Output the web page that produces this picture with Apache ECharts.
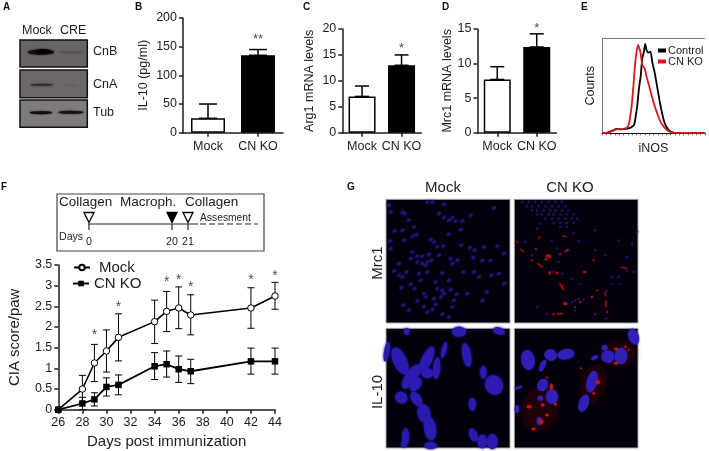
<!DOCTYPE html>
<html><head><meta charset="utf-8">
<style>html,body{margin:0;padding:0;background:#fff}#c{width:709px;height:451px}</style>
<script src="https://cdn.jsdelivr.net/npm/echarts@6/dist/echarts.min.js"></script>
</head><body><div id="c"></div>
<script>
// ---- bar panels ----
const barCats = ['Mock','CN KO'];
const il10 = [25,135];   const il10Top = [50,145];
const arg1 = [7,13];     const arg1Top = [9,15];
const mrc1 = [7.7,12.4]; const mrc1Top = [9.55,14.3];
// ---- flow histogram (channel, counts) ----
const flowControl = [[18,1],[35,2],[50,8],[62,13],[75,12],[90,13],[105,17],[115,25],[120,50],[125,85],[130,135],[135,170],[140,225],[145,245],[149,268],[153,250],[158,242],[165,245],[170,215],[178,180],[185,140],[192,100],[200,60],[208,30],[216,15],[225,6],[240,1],[330,1]];
const flowKO = [[18,1],[35,2],[50,7],[62,12],[75,12],[85,14],[95,18],[100,30],[103,48],[107,75],[110,105],[113,140],[116,180],[119,215],[123,245],[127,265],[131,255],[135,240],[140,205],[147,195],[153,170],[160,145],[168,115],[175,90],[185,60],[195,35],[205,20],[215,10],[225,4],[240,1],[330,1]];
// ---- CIA score ----
const days = [26,28,29,30,31,34,35,36,37,42,44];
const ciaMock = [0,.5,1.13,1.42,1.75,2.13,2.38,2.46,2.29,2.46,2.75];
const ciaMockHi = [0,.83,1.58,1.93,2.32,2.65,2.86,2.97,2.78,2.95,3.08];
const ciaMockLo = [0,.17,.68,.91,1.18,1.6,1.89,1.96,1.81,1.97,2.43];
const ciaKO = [0,.15,.25,.55,.6,1.05,1.1,.98,.93,1.17,1.17];
const ciaKOHi = [0,.3,.41,.77,.84,1.38,1.42,1.3,1.22,1.49,1.49];
const ciaKOLo = [0,0,.09,.33,.36,.73,.79,.66,.63,.86,.86];
const starDays = [29,31,35,36,37,42,44];
const starLevels = [1.8,2.49,3.08,3.14,2.96,3.13,3.24];
// ---- western blot bands: x, y, w, h, tone ----
const bandsCnB = [[78,52,78,16,'#151111'],[85,50,46,13,'#000000'],[170,52,72,6,'#565050']];
const bandsCnA = [[80,149,68,6,'#322e2e'],[165,151,40,4,'#625c5c']];
const bandsTub = [[78,233,68,9,'#100e0e'],[168,232,76,9,'#141212']];
// ---- micrographs: x, y, w, h, tilt ----
const mockMrc1Dots = [[15,25],[20,45],[55,45],[62,50],[130,15],[145,15],[180,22],[330,33],[165,50],[180,62],[195,70],[205,62],[215,72],[235,72],[260,55],[75,70],[90,90],[32,102],[55,100],[230,98],[195,112],[85,118],[97,113],[60,130],[18,132],[140,128],[150,135],[20,155],[160,150],[178,147],[232,145],[258,152],[272,160],[300,150],[340,147],[85,165],[100,178],[115,178],[135,172],[80,185],[100,195],[115,200],[130,195],[142,190],[125,205],[165,175],[200,185],[205,200],[220,190],[268,182],[295,190],[320,190],[360,170],[45,200],[30,222],[45,235],[55,240],[68,225],[105,230],[130,225],[110,250],[175,228],[238,225],[270,225],[285,240],[322,235],[345,230],[360,260],[155,255],[195,250],[80,262],[92,275],[52,272],[120,290],[160,275],[175,280],[180,290],[170,300],[200,278],[218,292],[250,290],[308,285],[100,312],[125,300],[150,305],[210,310],[295,310],[120,328],[58,325],[155,322],[205,330],[75,340],[130,345],[175,352],[195,360],[145,338]];
const koMrc1Dots = [[30,15],[50,15],[70,15],[90,15],[110,15],[130,15],[150,15],[45,28],[60,28],[80,28],[100,28],[120,28],[140,28],[160,28],[60,40],[75,40],[95,40],[115,40],[130,40],[150,40],[170,40],[75,52],[90,52],[110,52],[125,52],[145,52],[165,52],[185,52],[100,65],[120,65],[140,65],[160,65],[180,65],[195,65],[125,78],[145,78],[165,78],[185,78],[145,90],[165,90],[250,100],[200,132],[185,108],[120,130],[40,135],[75,95],[85,80],[135,155],[160,165],[60,175],[100,185],[140,195],[125,225],[205,260],[180,245],[150,230],[300,240],[320,240],[345,220],[365,225],[345,180],[280,175],[250,160],[320,130],[360,140],[375,105],[200,305],[190,310],[215,308],[240,300],[180,315],[75,330],[105,352],[190,340],[285,280],[300,260],[250,350],[282,365],[325,260]];
const koMrc1Red = [[82,122,12,5,-40],[158,118,20,4,10],[72,155,10,6,30],[110,178,24,12,10],[103,187,10,10,0],[145,172,12,6,0],[165,160,16,8,-30],[30,160,20,4,45],[60,190,14,4,30],[85,205,28,5,35],[113,228,8,14,0],[135,228,10,10,0],[218,225,14,8,0],[245,190,12,4,45],[150,270,34,5,55],[150,265,20,3,-10],[160,320,16,10,0],[205,315,10,8,0],[240,300,10,6,-30],[255,280,12,4,0],[280,290,4,22,0],[282,320,5,30,0],[285,345,8,8,0],[145,350,30,5,-5],[125,352,8,8,0],[335,212,30,4,10],[15,135,10,4,60],[190,330,6,6,0],[250,352,6,6,0]];
const mockIL10Blue = [[48,108,34,72,-25],[8,80,14,50,10],[2,130,10,35,0],[68,20,14,18,0],[225,20,36,26,0],[345,18,30,18,20],[248,90,22,60,-10],[128,105,26,72,25],[180,75,12,42,15],[158,130,18,55,5],[130,145,30,25,0],[82,155,30,70,35],[95,178,26,38,35],[52,218,32,28,30],[97,222,24,40,-35],[120,265,32,45,-10],[138,310,30,60,-10],[140,362,32,18,0],[65,335,18,42,0],[60,358,14,16,0],[265,238,18,32,0],[298,142,16,32,0],[268,330,20,35,-20],[295,350,24,34,0],[325,350,26,38,0],[330,180,44,50,-25]];
const koIL10Blue = [[48,105,36,55,-10],[92,122,14,34,25],[116,90,34,30,20],[162,88,46,28,-10],[92,180,28,34,25],[120,215,32,40,0],[85,220,14,14,0],[20,188,22,7,-15],[15,252,12,20,0],[82,288,14,22,0],[288,95,36,34,0],[327,93,34,44,0],[278,68,16,14,0],[248,98,20,10,-25],[365,35,28,45,-20],[240,170,28,60,15],[215,235,26,48,20]];
const koIL10Red = [[105,158,6,6,0],[118,185,10,20,0],[52,245,16,10,0],[92,240,12,10,0],[65,312,14,8,0],[88,290,14,14,0],[105,270,12,8,0],[130,238,8,8,0],[312,72,12,8,0],[312,115,12,8,0],[258,172,12,14,0],[245,205,8,8,0],[207,130,6,6,0],[340,65,8,6,0],[350,75,6,6,0]];
const koIL10Haze = [[85,250,110,140,25],[320,85,105,75,0],[245,175,75,120,15]];

const FONT = '"Liberation Sans", Arial, sans-serif';
const INK = '#1c1c1c';
const ELL = 'path://M0 -10A10 10 0 1 1 0 10A10 10 0 1 1 0 -10Z';
const grids = [], xAxes = [], yAxes = [], series = [];

function addGrid(g, x, y){ grids.push(g); const i = grids.length-1;
  xAxes.push(Object.assign({gridIndex:i}, x)); yAxes.push(Object.assign({gridIndex:i}, y)); return i; }
const axisCommon = {axisLine:{show:true,lineStyle:{color:INK,width:1.5}},axisTick:{show:true,length:4,lineStyle:{color:INK,width:1.5}},
  axisLabel:{color:INK,fontFamily:FONT,fontSize:12.5,margin:6},splitLine:{show:false}};

function barPanel(box, name, gap, max, step, vals, tops, bw, cap, star, starVal){
  const i = addGrid(box,
    Object.assign({}, axisCommon, {type:'category',data:barCats,axisTick:{show:true,length:4,alignWithLabel:true,lineStyle:{color:INK,width:1.5}},axisLabel:{color:INK,fontFamily:FONT,fontSize:12.5,margin:7,interval:0}}),
    Object.assign({}, axisCommon, {type:'value',min:0,max:max,interval:step,name:name,nameLocation:'middle',nameGap:gap,nameTextStyle:{color:INK,fontFamily:FONT,fontSize:12.5}}));
  series.push({type:'bar',xAxisIndex:i,yAxisIndex:i,barWidth:bw,silent:true,
    data:vals.map((v,k)=>({value:v,itemStyle:{color:k?'#000':'#fff',borderColor:'#000',borderWidth:1.5}}))});
  series.push(errorSeries(i, vals.map((v,k)=>[k,v,tops[k]]), cap, 1.5));
  series.push(starSeries(i, [[1,starVal]], star, 13));
}
function errorSeries(i, rows, cap, lw){
  return {type:'custom',xAxisIndex:i,yAxisIndex:i,silent:true,z:3,data:rows,encode:{x:0,y:[1,2]},
    renderItem(p,api){
      const a=api.coord([api.value(0),api.value(1)]), b=api.coord([api.value(0),api.value(2)]);
      const st={stroke:'#000',lineWidth:lw,fill:null};
      const L=(x1,y1,x2,y2)=>({type:'line',shape:{x1,y1,x2,y2},style:st});
      return {type:'group',children:[L(a[0],a[1],b[0],b[1]),L(a[0]-cap/2,b[1],a[0]+cap/2,b[1]),L(a[0]-cap/2,a[1],a[0]+cap/2,a[1])]};
    }};
}
function starSeries(i, rows, text, size){
  return {type:'scatter',xAxisIndex:i,yAxisIndex:i,silent:true,clip:false,symbolSize:1,z:4,itemStyle:{color:'transparent'},data:rows,
    label:{show:true,position:'inside',formatter:text,color:INK,fontFamily:FONT,fontSize:size}};
}
function blobs(i, rows, color, blur, opacity, k){
  k = k||1;
  return {type:'scatter',xAxisIndex:i,yAxisIndex:i,silent:true,symbol:ELL,clip:true,
    symbolSize:v=>[v[2]/3*k,v[3]/3*k],symbolRotate:v=>-v[4],
    itemStyle:{color:color,opacity:opacity==null?1:opacity,shadowBlur:blur,shadowColor:color},data:rows};
}
const dotRows = (rows,w,h)=>rows.map(r=>[r[0],r[1],w,h,-30]);

// blots
function blot(top, h, y0, y1, bg, bands){
  const i = addGrid({left:20,top:top,width:67.3,height:h,show:true,backgroundColor:bg,borderColor:'#111',borderWidth:1.5},
    {type:'value',show:false,min:15,max:217},{type:'value',show:false,inverse:true,min:y0,max:y1});
  series.push(Object.assign(blobs(i,bands.map(b=>[b[0],b[1],b[2],b[3],0]),'#000',2),{
    data:bands.map(b=>({value:[b[0],b[1],b[2],b[3],0],itemStyle:{color:b[4],shadowColor:b[4]}}))}));
}
blot(40,27,15,97,'#696363',bandsCnB);
blot(70,27.7,105,188,'#6c6666',bandsCnA);
blot(100,27.3,195,277,'#7f7b7b',bandsTub);

barPanel({left:183,top:18,width:100,height:114.7},'IL-10 (pg/ml)',33,200,50,il10,il10Top,34,18,'**',163);
barPanel({left:342.3,top:29,width:79,height:103.7},'Arg1 mRNA levels',26,20,5,arg1,arg1Top,27,14,'*',16.2);
barPanel({left:477.5,top:29,width:79,height:103.7},'Mrc1 mRNA levels',23,15,5,mrc1,mrc1Top,27,14,'*',15.05);

// histogram
const hi = addGrid({left:602,top:38.3,width:103,height:95},
  {type:'value',min:18,max:330,interval:13,axisLine:{show:true,lineStyle:{color:'#111',width:1}},axisTick:{show:true,length:2,lineStyle:{color:'#333',width:.7}},axisLabel:{show:false},splitLine:{show:false},
   name:'iNOS',nameLocation:'middle',nameGap:3,nameTextStyle:{color:INK,fontFamily:FONT,fontSize:12.5,padding:[6,0,0,0]}},
  {type:'value',min:0,max:285,axisLine:{show:true,lineStyle:{color:'#777',width:1}},axisTick:{show:false},axisLabel:{show:false},splitLine:{show:false},
   name:'Counts',nameLocation:'middle',nameGap:5,nameTextStyle:{color:INK,fontFamily:FONT,fontSize:12.5}});
series.push({name:'Control',type:'line',xAxisIndex:hi,yAxisIndex:hi,showSymbol:false,smooth:.2,silent:true,z:3,color:'#000',lineStyle:{color:'#000',width:1.8},data:flowControl});
series.push({name:'CN KO ',type:'line',xAxisIndex:hi,yAxisIndex:hi,showSymbol:false,smooth:.2,silent:true,z:4,color:'#e0141c',lineStyle:{color:'#e0141c',width:1.8},data:flowKO});

// CIA
const ci = addGrid({left:58.3,top:265,width:216.7,height:144.7},
  Object.assign({},axisCommon,{type:'value',min:26,max:44,interval:2,name:'Days post immunization',nameLocation:'middle',nameGap:25,nameTextStyle:{color:INK,fontFamily:FONT,fontSize:15}}),
  Object.assign({},axisCommon,{type:'value',min:0,max:3.5,interval:.5,name:'CIA score/paw',nameLocation:'middle',nameGap:36,nameTextStyle:{color:INK,fontFamily:FONT,fontSize:15}}));
series.push(errorSeries(ci, days.map((d,k)=>[d,ciaMockLo[k],ciaMockHi[k]]).slice(1), 7, 1));
series.push(errorSeries(ci, days.map((d,k)=>[d,ciaKOLo[k],ciaKOHi[k]]).slice(1), 7, 1));
series.push({name:'Mock',type:'line',xAxisIndex:ci,yAxisIndex:ci,silent:true,z:5,symbol:'circle',symbolSize:6.5,color:'#fff',
  itemStyle:{color:'#fff',borderColor:'#000',borderWidth:1},lineStyle:{color:'#000',width:1.6},data:days.map((d,k)=>[d,ciaMock[k]])});
series.push({name:'CN KO',type:'line',xAxisIndex:ci,yAxisIndex:ci,silent:true,z:5,symbol:'rect',symbolSize:6.5,color:'#000',
  itemStyle:{color:'#000'},lineStyle:{color:'#000',width:1.8},data:days.map((d,k)=>[d,ciaKO[k]])});
series.push(starSeries(ci, starDays.map((d,k)=>[d,starLevels[k]]), '*', 14));

// micrographs
function micro(left,top,w,h,x0,x1,y0,y1){
  return addGrid({left,top,width:w,height:h,show:true,backgroundColor:'#04000c',borderColor:'#aaa',borderWidth:1},
    {type:'value',show:false,min:x0,max:x1},{type:'value',show:false,inverse:true,min:y0,max:y1});
}
const m1 = micro(386,199.3,124,123.7,6,378,7,378);
series.push(blobs(m1,dotRows(mockMrc1Dots,13,9),'#241880',3,.85));
const m2 = micro(514.3,199.3,123.7,123.7,7,378,7,378);
series.push(blobs(m2,dotRows(koMrc1Dots,8,6),'#1f1670',2,.85));
series.push(blobs(m2,koMrc1Red,'#a81418',2,.9,.8));
const m3 = micro(386,328.3,124,119.7,6,378,10,369);
series.push(blobs(m3,mockIL10Blue,'#2a1cae',3,1,1.2));
const m4 = micro(514.3,328.3,123.7,119.7,7,378,10,369);
series.push(blobs(m4,koIL10Haze,'#3a0406',8,.3));
series.push(blobs(m4,koIL10Blue,'#3020b8',2,1,1.1));
series.push(blobs(m4,koIL10Red,'#d01418',2.5,.95,.9));

// text and schematic
const T=(text,x,y,size,extra)=>Object.assign({type:'text',x,y,silent:true,z:20,style:Object.assign({text,fill:INK,fontFamily:FONT,fontSize:size,align:'left',verticalAlign:'middle'},extra&&extra.style)},extra&&extra.el);
const VT=(text,x,y,size)=>T(text,x,y,size,{el:{rotation:Math.PI/2},style:{align:'center'}});
const C={style:{align:'center'}};
const B={style:{fontWeight:'bold',fill:'#111'}};
const TRI=(cx,black)=>({type:'polygon',silent:true,z:20,shape:{points:[[cx-5,212.5],[cx+5,212.5],[cx,222.5]]},style:{fill:black?'#000':'#fff',stroke:'#000',lineWidth:1.3}});
const LN=(x1,y1,x2,y2,extra)=>({type:'line',silent:true,z:19,shape:{x1,y1,x2,y2},style:Object.assign({stroke:'#222',lineWidth:1.2},extra)});
const graphic=[
 T('A',3,7,10,B),T('B',135,7,10,B),T('C',303,7,10,B),T('D',442,7,10,B),T('E',581,7,10,B),T('F',1,187,10,B),T('G',347,187,10,B),
 T('Mock',22,31,12.5),T('CRE',60,31,12.5),T('CnB',93,52,12.5),T('CnA',93,85,12.5),T('Tub',93,113,12.5),
 {type:'rect',silent:true,z:18,shape:{x:57,y:194,width:207,height:57},style:{fill:'#fff',stroke:'#444',lineWidth:1.2}},
 T('Collagen',59,202.5,13.5),T('Macroph.',120,202.5,13.5),T('Collagen',185,202.5,13.5),
 LN(88,224,198,224),LN(89,224,89,230),LN(172,224,172,230),LN(188,224,188,230),
 LN(200,224,258,224,{lineDash:[6,3]}),
 LN(602,38.5,705,38.5,{stroke:'#777',lineWidth:1}),
 TRI(89,false),TRI(172,true),TRI(188,false),
 T('Assesment',200,218,10.3),T('Days',59,237,10.6),T('0',89,242,10.6,C),T('20',172,242,10.6,C),T('21',188,242,10.6,C),
 T('Mock',443,188,15,C),T('CN KO',570,188,15,C),VT('Mrc1',378,263,15),VT('IL-10',378,392,15)
];

const chart=echarts.init(document.getElementById('c'),null,{renderer:'canvas'});
chart.setOption({animation:false,backgroundColor:'#fff',grid:grids,xAxis:xAxes,yAxis:yAxes,series,graphic:{elements:graphic},
 legend:[
  {data:[{name:'Control',icon:'rect'},{name:'CN KO ',icon:'rect'}],orient:'vertical',left:658,top:45,itemWidth:8,itemHeight:4,itemGap:0,selectedMode:false,padding:0,textStyle:{color:INK,fontFamily:FONT,fontSize:11,padding:[0,0,0,-3]}},
  {data:['Mock'],left:73,top:260,itemWidth:16,itemHeight:7,itemGap:0,selectedMode:false,padding:0,textStyle:{color:INK,fontFamily:FONT,fontSize:15,padding:[0,0,0,4]}},
  {data:['CN KO'],left:72,top:276,itemWidth:16,itemHeight:7,itemGap:0,selectedMode:false,padding:0,textStyle:{color:INK,fontFamily:FONT,fontSize:15}}
 ]});
</script></body></html>
